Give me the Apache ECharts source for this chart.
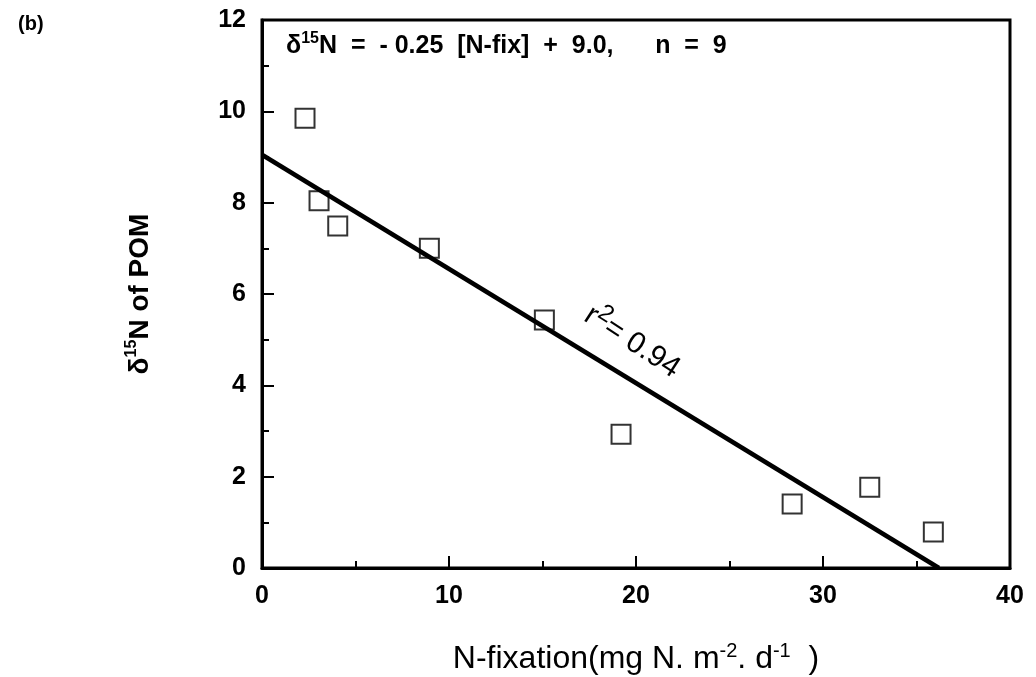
<!DOCTYPE html>
<html>
<head>
<meta charset="UTF-8">
<title>N-fixation vs d15N</title>
<script src="https://cdn.jsdelivr.net/npm/echarts@6/dist/echarts.min.js"></script>
<style>
  html, body { margin: 0; padding: 0; background: #fff; }
  #main { width: 1036px; height: 677px; }
</style>
</head>
<body>
<div id="main"></div>
<script>
// data
var nFix = [2.3, 3.05, 4.05, 8.95, 15.1, 19.2, 28.35, 32.5, 35.9];
var d15N = [9.85, 8.04, 7.49, 7.0, 5.43, 2.93, 1.40, 1.77, 0.79];
var fitX = [0, 36.2];
var fitY = [9.05, 0];
var xTicks = [0, 10, 20, 30, 40];
var yTicks = [0, 2, 4, 6, 8, 10, 12];

var pts = [];
for (var i = 0; i < nFix.length; i++) {
  pts.push([nFix[i], d15N[i]]);
}
var fit = [];
for (var j = 0; j < fitX.length; j++) {
  fit.push([fitX[j], fitY[j]]);
}

var font = 'Liberation Sans, Arial, sans-serif';
var myChart = echarts.init(document.getElementById('main'));
var option = {
  backgroundColor: '#fff',
  animation: false,
  grid: {
    left: 262, right: 26, top: 20, bottom: 109,
    outerBoundsMode: 'none',
    show: true, borderColor: '#000', borderWidth: 3
  },
  xAxis: {
    type: 'value',
    min: xTicks[0], max: xTicks[xTicks.length - 1], interval: 10,
    axisLine: { lineStyle: { color: '#000', width: 3 } },
    axisTick: { inside: true, length: 12, lineStyle: { color: '#000', width: 2 } },
    minorTick: { show: true, splitNumber: 2, length: 7, lineStyle: { color: '#000', width: 2 } },
    splitLine: { show: false },
    axisLabel: { color: '#000', fontFamily: font, fontWeight: 'bold', fontSize: 25, margin: 16 },
    name: '{a|N-fixation(mg N. m}{s|-2}{a|. d}{s|-1}{a|  )}',
    nameLocation: 'middle',
    nameGap: 73,
    nameTextStyle: {
      rich: {
        a: { fontFamily: font, fontSize: 32, color: '#000' },
        s: { fontFamily: font, fontSize: 20, color: '#000', padding: [0, 0, 16, 0] }
      }
    }
  },
  yAxis: {
    type: 'value',
    min: yTicks[0], max: yTicks[yTicks.length - 1], interval: 2,
    axisLine: { lineStyle: { color: '#000', width: 3 } },
    axisTick: { inside: true, length: 12, lineStyle: { color: '#000', width: 2 } },
    minorTick: { show: true, splitNumber: 2, length: 7, lineStyle: { color: '#000', width: 2 } },
    splitLine: { show: false },
    axisLabel: { color: '#000', fontFamily: font, fontWeight: 'bold', fontSize: 25, margin: 16 },
    name: '{a|δ}{s|15}{a|N of POM}',
    nameLocation: 'middle',
    nameGap: 106,
    nameRotate: 90,
    nameTextStyle: {
      rich: {
        a: { fontFamily: font, fontSize: 28, fontWeight: 'bold', color: '#000' },
        s: { fontFamily: font, fontSize: 16, color: '#000', fontWeight: 'bold', padding: [0, 0, 16, 0] }
      }
    }
  },
  series: [
    {
      type: 'line',
      data: fit,
      showSymbol: false,
      lineStyle: { color: '#000', width: 4.5 },
      z: 2
    },
    {
      type: 'scatter',
      data: pts,
      symbol: 'rect',
      symbolSize: 19,
      itemStyle: { color: 'rgba(255,255,255,0)', borderColor: '#000', borderWidth: 2 },
      z: 3
    }
  ],
  graphic: [
    {
      type: 'text', left: 18, top: 14,
      style: { text: '(b)', font: 'bold 20px ' + font, fill: '#000' }
    },
    {
      type: 'text', left: 286, top: 31,
      style: {
        text: '{a|δ}{s|15}{a|N  =  - 0.25  [N-fix]  +  9.0,      n  =  9}',
        rich: {
          a: { fontFamily: font, fontSize: 25, fontWeight: 'bold', fill: '#000' },
          s: { fontFamily: font, fontSize: 16, fontWeight: 'bold', fill: '#000', padding: [0, 0, 14, 0] }
        }
      }
    },
    {
      type: 'text', x: 632, y: 342, rotation: -33 * Math.PI / 180,
      style: {
        text: '{a|r}{s|2}{a|= 0.94}',
        align: 'center', verticalAlign: 'middle',
        rich: {
          a: { fontFamily: font, fontSize: 30, fill: '#000' },
          s: { fontFamily: font, fontSize: 24, fill: '#000', padding: [0, 0, 18, 0] }
        }
      }
    }
  ]
};
myChart.setOption(option);
</script>
</body>
</html>
